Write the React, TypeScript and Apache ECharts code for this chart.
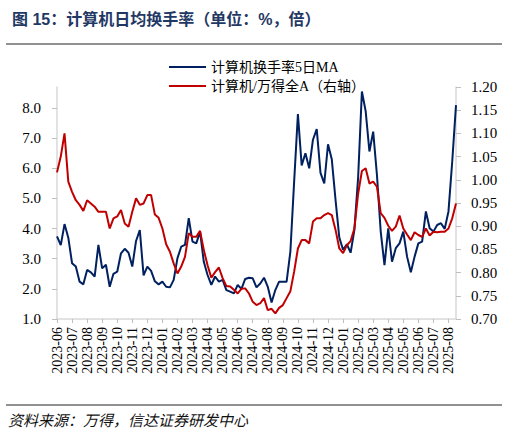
import * as echarts from 'echarts';
import { useEffect, useRef } from 'react';

// month labels on the x axis, one per tick
const MONTHS = [
  '2023-06', '2023-07', '2023-08', '2023-09', '2023-10', '2023-11', '2023-12',
  '2024-01', '2024-02', '2024-03', '2024-04', '2024-05', '2024-06', '2024-07',
  '2024-08', '2024-09', '2024-10', '2024-11', '2024-12', '2025-01', '2025-02',
  '2025-03', '2025-04', '2025-05', '2025-06', '2025-07', '2025-08',
];

// one sample per quarter month, starting 2023-06
const STEP = 0.25;

// 计算机换手率5日MA (%), left axis
const TURNOVER_MA5 = [
  3.74, 3.45, 4.15, 3.7, 2.85, 2.74, 2.24, 2.15,
  2.63, 2.55, 2.41, 3.46, 2.68, 2.8, 2.07, 2.5,
  2.57, 3.18, 3.33, 3.2, 2.74, 3.59, 3.95, 2.45,
  2.74, 2.6, 2.25, 2.15, 2.24, 2.07, 2.05, 2.3,
  3.02, 3.4, 3.46, 4.35, 3.57, 3.51, 3.9, 2.9,
  2.46, 2.13, 2.41, 2.24, 2.3, 1.96, 1.91, 1.85,
  2.13, 2.0, 2.33, 2.37, 2.35, 2.05, 2.18, 2.37,
  2.07, 1.55, 1.96, 2.24, 2.24, 2.24, 3.24, 5.56,
  7.8, 6.1, 6.5, 6.0, 6.95, 7.3, 5.85, 5.5,
  6.8, 6.3, 4.95, 3.7, 3.3, 3.48, 3.2, 3.95,
  5.7, 8.55, 7.9, 6.56, 7.22, 5.78, 3.9, 2.79,
  4.01, 2.9, 3.35, 3.51, 3.9, 3.07, 2.55, 3.07,
  3.51, 3.57, 4.57, 4.01, 3.9, 4.12, 4.18, 3.99,
  4.57, 6.23, 8.1,
];

// 计算机/万得全A (倍), right axis
const RELATIVE = [
  1.016, 1.05, 1.1, 0.996, 0.974, 0.956, 0.946, 0.933,
  0.956, 0.949, 0.942, 0.931, 0.931, 0.931, 0.895, 0.917,
  0.921, 0.935, 0.906, 0.899, 0.931, 0.96, 0.946, 0.949,
  0.967, 0.967, 0.925, 0.918, 0.895, 0.861, 0.845, 0.82,
  0.798, 0.813, 0.834, 0.885, 0.877, 0.877, 0.89, 0.849,
  0.816, 0.789, 0.801, 0.811, 0.788, 0.771, 0.77, 0.763,
  0.755, 0.765, 0.766, 0.755, 0.737, 0.73, 0.734, 0.745,
  0.719, 0.722, 0.712, 0.724, 0.73, 0.745, 0.76, 0.802,
  0.852, 0.87, 0.87, 0.863, 0.91, 0.917, 0.917, 0.924,
  0.928, 0.924, 0.892, 0.852, 0.842, 0.859, 0.868, 0.895,
  0.97, 1.019, 1.025, 0.992, 0.996, 0.985, 0.928, 0.918,
  0.901, 0.89, 0.899, 0.923, 0.895, 0.882, 0.87, 0.887,
  0.881, 0.877, 0.895, 0.88, 0.888, 0.887, 0.888, 0.888,
  0.895, 0.917, 0.949,
];

const LEFT_TICKS = [1, 2, 3, 4, 5, 6, 7, 8];

const SERIF = '"Liberation Serif", "Noto Sans CJK SC", serif';
const AXIS_GREY = '#d9d9d9';
const TICK_GREY = '#bfbfbf';

export default function App() {
  const ref = useRef<HTMLDivElement>(null);

  useEffect(() => {
    document.body.style.margin = '0';
    const chart = echarts.init(ref.current!, null, { renderer: 'svg' });
    const monthTicks = MONTHS.map((_, i) => i);
    const xMax = (TURNOVER_MA5.length - 1) * STEP;

    chart.setOption({
      animation: false,
      backgroundColor: '#fff',
      title: {
        text: '图 15：计算机日均换手率（单位：%，倍）',
        left: 7,
        top: 6,
        textStyle: {
          fontSize: 16,
          fontWeight: 'bold',
          color: '#1f3864',
          fontFamily: '"Liberation Sans", "Noto Sans CJK SC", sans-serif',
        },
      },
      legend: {
        orient: 'vertical',
        left: 169,
        top: 60,
        padding: 0,
        icon: 'rect',
        itemWidth: 37,
        itemHeight: 2,
        itemGap: 5,
        textStyle: { fontSize: 14, lineHeight: 14, color: '#000', fontFamily: SERIF },
      },
      grid: { left: 57, right: 52, top: 87, bottom: 114, outerBoundsMode: 'none' },
      xAxis: {
        type: 'value',
        min: 0,
        max: xMax,
        axisLine: { lineStyle: { color: AXIS_GREY, width: 1.5 } },
        axisTick: { customValues: monthTicks, length: 4, lineStyle: { color: TICK_GREY } },
        splitLine: { show: false },
        axisLabel: {
          customValues: monthTicks,
          formatter: (v: number) => MONTHS[Math.round(v)] ?? '',
          rotate: 90,
          margin: 8,
          fontSize: 14,
          color: '#000',
          fontFamily: SERIF,
        },
      },
      yAxis: [
        {
          type: 'value',
          position: 'left',
          min: 1,
          max: 8.7,
          axisLine: { show: true, lineStyle: { color: AXIS_GREY, width: 1.5 } },
          axisTick: { show: true, customValues: LEFT_TICKS, length: 5, lineStyle: { color: TICK_GREY } },
          splitLine: { show: false },
          axisLabel: {
            customValues: LEFT_TICKS,
            formatter: (v: number) => v.toFixed(1),
            margin: 16,
            fontSize: 15,
            color: '#000',
            fontFamily: SERIF,
          },
        },
        {
          type: 'value',
          position: 'right',
          min: 0.7,
          max: 1.2,
          interval: 0.05,
          axisLine: { show: true, lineStyle: { color: AXIS_GREY, width: 1.5 } },
          axisTick: { show: true, length: 5, lineStyle: { color: TICK_GREY } },
          splitLine: { show: false },
          axisLabel: {
            formatter: (v: number) => v.toFixed(2),
            margin: 15,
            fontSize: 15,
            color: '#000',
            fontFamily: SERIF,
          },
        },
      ],
      series: [
        {
          name: '计算机换手率5日MA',
          type: 'line',
          yAxisIndex: 0,
          symbol: 'none',
          lineStyle: { color: '#002060', width: 2 },
          itemStyle: { color: '#002060' },
          data: TURNOVER_MA5.map((v, i) => [i * STEP, v]),
        },
        {
          name: '计算机/万得全A（右轴）',
          type: 'line',
          yAxisIndex: 1,
          symbol: 'none',
          lineStyle: { color: '#c00000', width: 2 },
          itemStyle: { color: '#c00000' },
          data: RELATIVE.map((v, i) => [i * STEP, v]),
        },
      ],
      graphic: [
        { type: 'line', shape: { x1: 6, y1: 44, x2: 502, y2: 44 }, style: { stroke: '#222', lineWidth: 1 } },
        { type: 'line', shape: { x1: 6, y1: 405, x2: 502, y2: 405 }, style: { stroke: '#222', lineWidth: 1 } },
        {
          type: 'text',
          x: 8,
          y: 419,
          style: {
            text: '资料来源：万得，信达证券研发中心',
            fontSize: 15,
            fontStyle: 'italic',
            fill: '#111',
            fontFamily: '"Noto Sans CJK SC", sans-serif',
            verticalAlign: 'middle',
          },
        },
      ],
    });

    return () => chart.dispose();
  }, []);

  return <div ref={ref} style={{ width: 508, height: 433 }} />;
}
